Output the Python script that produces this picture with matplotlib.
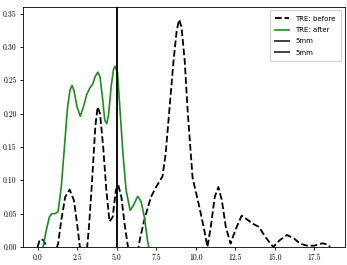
import numpy as np
import matplotlib
matplotlib.use("Agg")
import matplotlib.pyplot as plt

# TRE before registration (dashed)
before_x = [0.0, 0.12, 0.25, 0.4, 0.55, 0.7, 1.1, 1.3, 1.5, 1.75, 2.03, 2.3, 2.5, 2.7,
            3.1, 3.25, 3.45, 3.65, 3.8, 3.95, 4.15, 4.35, 4.55, 4.75, 4.95, 5.1, 5.3,
            5.5, 5.75, 6.3, 6.5, 6.8, 7.17, 7.5, 7.9, 8.1, 8.35, 8.6, 8.8, 8.95, 9.1,
            9.3, 9.5, 9.8, 10.2, 10.5, 10.74, 10.95, 11.2, 11.43, 11.65, 11.9, 12.2,
            12.5, 12.9, 13.2, 13.6, 14.0, 14.4, 14.9, 15.3, 15.77, 16.2, 16.6, 17.03,
            17.5, 18.0, 18.3, 18.5]
before_y = [0.0, 0.009, 0.012, 0.009, 0.002, -0.01, -0.01, 0.005, 0.04, 0.075, 0.086,
            0.07, 0.035, -0.005, -0.01, 0.03, 0.1, 0.18, 0.21, 0.2, 0.15, 0.085, 0.038,
            0.045, 0.085, 0.093, 0.075, 0.035, -0.005, -0.01, 0.015, 0.045, 0.075, 0.09,
            0.106, 0.14, 0.21, 0.28, 0.325, 0.341, 0.33, 0.28, 0.2, 0.104, 0.063, 0.03,
            0.0, 0.03, 0.075, 0.09, 0.07, 0.03, 0.005, 0.025, 0.047, 0.042, 0.035, 0.03,
            0.015, 0.0, 0.01, 0.018, 0.013, 0.005, 0.002, 0.002, 0.0055, 0.004, 0.0]

# TRE after registration (green)
after_x = [0.2, 0.35, 0.55, 0.75, 0.9, 1.1, 1.3, 1.5, 1.7, 1.9, 2.05, 2.18, 2.3, 2.5,
           2.7, 2.9, 3.1, 3.3, 3.5, 3.65, 3.81, 3.95, 4.1, 4.25, 4.38, 4.5, 4.65, 4.8,
           4.9, 5.05, 5.2, 5.4, 5.6, 5.85, 6.05, 6.33, 6.55, 6.75, 6.95, 7.1]
after_y = [-0.02, 0.0, 0.025, 0.045, 0.05, 0.05, 0.053, 0.09, 0.15, 0.21, 0.235, 0.242,
           0.235, 0.21, 0.196, 0.21, 0.228, 0.238, 0.245, 0.256, 0.262, 0.255, 0.225,
           0.19, 0.185, 0.2, 0.24, 0.266, 0.271, 0.262, 0.21, 0.14, 0.085, 0.055, 0.062,
           0.076, 0.068, 0.045, 0.01, -0.01]

threshold = 5

plt.figure(figsize=(3.47, 2.65), dpi=100)
ax = plt.axes([0.066, 0.068, 0.928, 0.906])

ax.plot(before_x, before_y, "k--", linewidth=1.3, label="TRE: before")
ax.plot(after_x, after_y, color="#1a8f1a", linewidth=1.2, label="TRE: after")
ax.axvline(threshold, color="k", alpha=0.75, linewidth=1.4, label="5mm")
ax.axvline(threshold, color="k", alpha=0.75, linewidth=1.4, label="5mm")

ax.set_xlim(-0.925, 19.43)
ax.set_ylim(0, 0.36)
ax.set_xticks([0, 2.5, 5, 7.5, 10, 12.5, 15, 17.5])
ax.set_yticks(np.arange(0, 0.36, 0.05))
ax.set_xticklabels(["%.1f" % v for v in ax.get_xticks()], fontfamily="cmr10")
ax.set_yticklabels(["%.2f" % v for v in ax.get_yticks()], fontfamily="cmr10")
ax.tick_params(labelsize=5.5, length=2.5, width=0.6, pad=2)
for s in ax.spines.values():
    s.set_linewidth(0.6)

ax.legend(loc="upper right", fontsize=5, handlelength=2.0, borderpad=0.8,
          labelspacing=0.75, handletextpad=0.9)

plt.savefig("out.png", dpi=100)
